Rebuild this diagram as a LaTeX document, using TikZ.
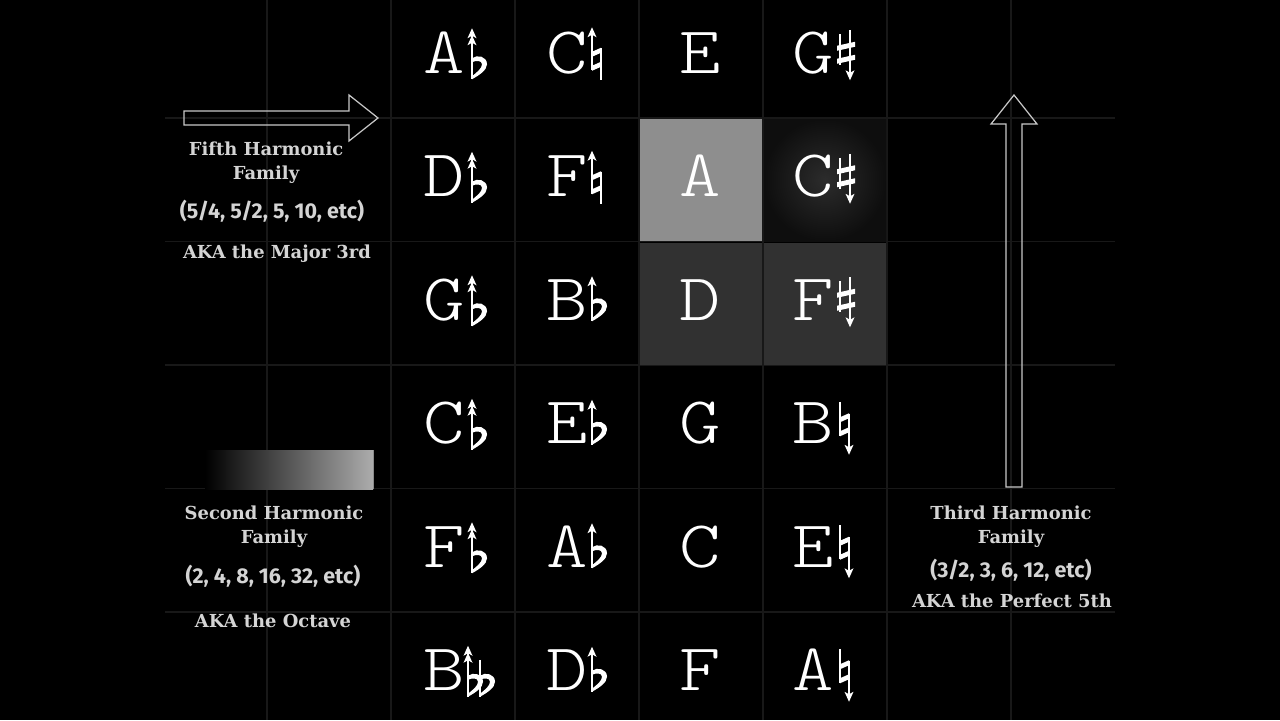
\documentclass[tikz,border=0pt]{standalone}
\usepackage{fontspec}
\newfontfamily\slabfont{DejaVu Serif}
\newfontfamily\numfont{Fira Sans}
\newfontfamily\notefont[FakeStretch=1.18]{lmmonolt10-regular.otf}
\usetikzlibrary{calc}

\definecolor{gridgray}{RGB}{24,24,24}
\definecolor{labelgray}{RGB}{212,212,212}
\definecolor{arrowgray}{RGB}{200,200,200}
\definecolor{cellA}{RGB}{142,142,142}
\definecolor{cellD}{RGB}{49,49,49}
\definecolor{glowin}{RGB}{44,44,44}
\definecolor{glowout}{RGB}{14,14,14}
\definecolor{barend}{RGB}{172,172,172}

\tikzset{
  note/.style={font=\notefont\fontsize{38}{38}\selectfont, text=white, inner sep=0pt, anchor=base},
  title/.style={font=\slabfont\bfseries\fontsize{10.2}{13.6}\selectfont, text=labelgray, align=center, inner sep=0pt},
  nums/.style={font=\numfont\bfseries\fontsize{12.2}{14}\selectfont, text=labelgray, inner sep=0pt},
  aka/.style={font=\slabfont\bfseries\fontsize{10.2}{12}\selectfont, text=labelgray, inner sep=0pt},
  acc/.style={white, line width=0.9pt},
  gridline/.style={gridgray, line width=0.6pt},
  outline/.style={arrowgray, line width=0.7pt, line join=miter},
  headup/.pic={\fill[white] (0,0) -- (4.5,10) -- (0,7.5) -- (-4.5,10) -- cycle;},
  headdown/.pic={\fill[white] (0,0) -- (4.5,-10) -- (0,-7.5) -- (-4.5,-10) -- cycle;},
  flatbody/.pic={
    \draw[acc] (0,-14) -- (0,23);
    \fill[white] (0,2) .. controls (5,-2) and (15,0) .. (15,8) .. controls (15,14) and (7,19) .. (0,23)
      -- (0,20) .. controls (5,16) and (10,12) .. (10,8) .. controls (10,4) and (4,4) .. (0,6) -- cycle;
  },
  flatuu/.pic={
    \pic at (0,0) {flatbody};
    \draw[acc] (0,-14) -- (0,-22);
    \pic at (0,-28) {headup};
    \pic at (0,-21) {headup};
  },
  flatu/.pic={
    \pic at (0,-5) {flatbody};
    \draw[acc] (0,-19) -- (0,-22);
    \pic at (0,-27) {headup};
  },
  dflatuu/.pic={
    \pic at (-4,0) {flatuu};
    \pic at (8,0) {flatbody};
  },
  natu/.pic={
    \draw[acc] (0,-22) -- (0,14);
    \draw[acc] (9,-8) -- (9,24);
    \fill[white] (0,0.5) -- (9,-3.5) -- (9,-8.5) -- (0,-4.5) -- cycle;
    \fill[white] (0,14.5) -- (9,10.5) -- (9,5.5) -- (0,9.5) -- cycle;
    \pic at (0,-29) {headup};
  },
  natd/.pic={
    \draw[acc] (0,-25) -- (0,9);
    \draw[acc] (9,-13) -- (9,22);
    \fill[white] (0,-4.5) -- (9,-8.5) -- (9,-13.5) -- (0,-9.5) -- cycle;
    \fill[white] (0,9.5) -- (9,5.5) -- (9,0.5) -- (0,4.5) -- cycle;
    \pic at (9,28) {headdown};
  },
  sharpd/.pic={
    \draw[acc] (0,-22) -- (0,9);
    \draw[acc] (10,-26) -- (10,18);
    \fill[white] (-3,-5.5) -- (15,-9.5) -- (15,-14.5) -- (-3,-10.5) -- cycle;
    \fill[white] (-3,7.5) -- (15,3.5) -- (15,-1.5) -- (-3,2.5) -- cycle;
    \pic at (10,24) {headdown};
  },
  noacc/.pic={}
}

\begin{document}
\begin{tikzpicture}[x=0.02cm, y=-0.02cm]

\fill[black] (0,0) rectangle (1280,720);
\useasboundingbox (0,0) rectangle (1280,720);

% grid
\foreach \k in {0,...,6}
  \draw[gridline] (267+124*\k,0) -- (267+124*\k,720);
\foreach \k in {0,...,4}
  \draw[gridline] (165,118+123.5*\k) -- (1115,118+123.5*\k);

% highlighted cells
\fill[cellA] (640,119) rectangle (762,241);
\shade[inner color=glowin, outer color=glowout] (764,119) rectangle (886,241);
\fill[cellD] (640,243) rectangle (762,365);
\fill[cellD] (764,243) rectangle (886,365);

% notes
\foreach \r/\c/\l/\a in {1/1/A/flatuu, 1/2/C/natu, 1/3/E/noacc, 1/4/G/sharpd,
    2/1/D/flatuu, 2/2/F/natu, 2/3/A/noacc, 2/4/C/sharpd,
    3/1/G/flatuu, 3/2/B/flatu, 3/3/D/noacc, 3/4/F/sharpd,
    4/1/C/flatuu, 4/2/E/flatu, 4/3/G/noacc, 4/4/B/natd,
    5/1/F/flatuu, 5/2/A/flatu, 5/3/C/noacc, 5/4/E/natd,
    6/1/B/dflatuu, 6/2/D/flatu, 6/3/F/noacc, 6/4/A/natd}{
  \pgfmathsetmacro\cx{390+124*(\c-0.5)}
  \pgfmathsetmacro\cy{-5.5+123.5*(\r-0.5)}
  \pgfmathsetmacro\lx{\cx+(\c==1 ? -8 : (\c==2 ? -9 : (\c==3 ? 0 : -11)))}
  \pgfmathsetmacro\ax{\cx+(\c==1 ? 20 : 16)}
  \pgfmathsetmacro\ly{\cy+17}
  \node[note] (note-\r-\c) at (\lx,\ly) {\l};
  \pic at (\ax,\cy) {\a};
}

% fifth harmonic arrow
\draw[outline] (184,111) -- (349,111) -- (349,95) -- (378,118) -- (349,141) -- (349,125) -- (184,125) -- cycle;
\node[title] (fifth-title) at (266,163) {Fifth Harmonic\\Family};
\node[nums] (fifth-nums) at (272,211) {(5/4, 5/2, 5, 10, etc)};
\node[aka] (fifth-aka) at (277,254) {AKA the Major 3rd};

% second harmonic bar
\shade[left color=black, right color=barend] (205,450) rectangle (373,489);
\draw[barend!80!black, line width=0.5pt] (373,450) -- (373,489);
\node[title] (second-title) at (274,527) {Second Harmonic\\Family};
\node[nums] (second-nums) at (273,576) {(2, 4, 8, 16, 32, etc)};
\node[aka] (second-aka) at (273,621) {AKA the Octave};

% third harmonic arrow
\draw[outline] (1006,487) -- (1006,124) -- (991,124) -- (1014,95) -- (1037,124) -- (1022,124) -- (1022,487) -- cycle;
\node[title] (third-title) at (1011,527) {Third Harmonic\\Family};
\node[nums] (third-nums) at (1011,570) {(3/2, 3, 6, 12, etc)};
\node[aka] (third-aka) at (1012,601) {AKA the Perfect 5th};

\end{tikzpicture}
\end{document}
